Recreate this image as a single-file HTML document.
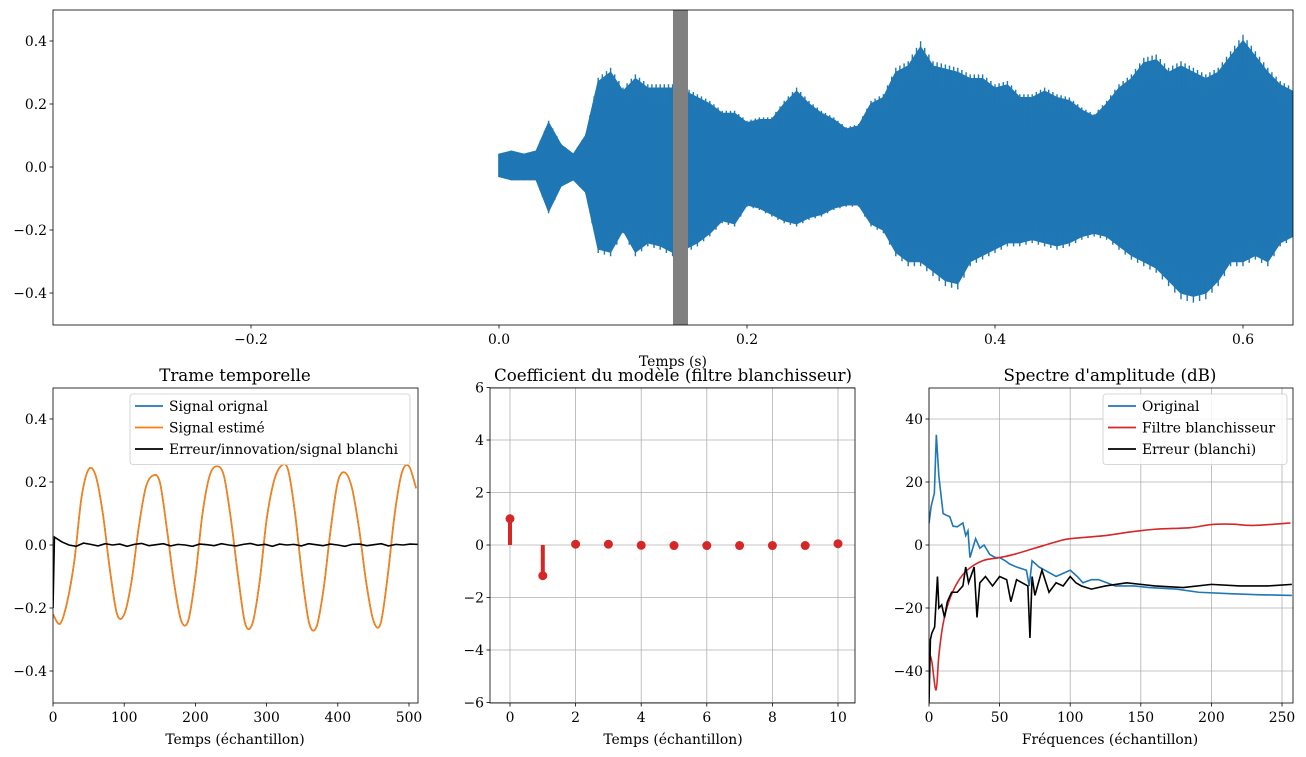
<!DOCTYPE html>
<html><head><meta charset="utf-8"><style>
html,body{margin:0;padding:0;background:#fff}
svg{display:block;font-family:"DejaVu Serif","Liberation Serif",serif}
</style></head><body>
<svg id="fig" width="1306" height="757" viewBox="0 0 1306 757"></svg>
<script>
// ---- top waveform envelope (every 0.01 s from 0 to 0.64)
const envUpper=[.04,.05,.04,.05,.14,.07,.04,.10,.27,.30,.24,.28,.25,.25,.25,.24,.22,.20,.17,.17,.14,.15,.15,.20,.24,.20,.17,.15,.12,.13,.20,.22,.30,.32,.38,.32,.31,.30,.28,.28,.25,.26,.22,.22,.24,.22,.21,.18,.16,.20,.25,.28,.33,.34,.30,.32,.30,.28,.30,.35,.40,.35,.30,.26,.24];
const envLower=[-.03,-.04,-.04,-.04,-.14,-.06,-.04,-.08,-.26,-.27,-.20,-.27,-.24,-.25,-.27,-.26,-.24,-.21,-.17,-.18,-.12,-.13,-.15,-.17,-.18,-.16,-.15,-.13,-.12,-.12,-.18,-.20,-.27,-.30,-.30,-.33,-.36,-.37,-.30,-.28,-.26,-.24,-.24,-.23,-.24,-.25,-.24,-.22,-.21,-.22,-.25,-.28,-.30,-.32,-.36,-.40,-.41,-.40,-.36,-.30,-.30,-.28,-.30,-.24,-.22];
const frameStart=0.1403, frameEnd=0.1524;
const topXTicks=[-0.2,0,0.2,0.4,0.6];
const topYTicks=[-0.4,-0.2,0,0.2,0.4];
// ---- bottom-left frame (every 10 samples)
const frameSignal=[-0.22,-0.25,-0.18,-0.05,0.15,0.24,0.22,0.10,-0.08,-0.22,-0.22,-0.12,0.05,0.18,0.22,0.20,0.05,-0.12,-0.24,-0.24,-0.10,0.10,0.22,0.25,0.22,0.08,-0.10,-0.25,-0.25,-0.12,0.08,0.20,0.25,0.24,0.10,-0.10,-0.25,-0.26,-0.14,0.05,0.20,0.23,0.18,0.05,-0.12,-0.24,-0.25,-0.10,0.10,0.23,0.25,0.18];
const frameError=[-0.2,0.025,0.01,0.0,-0.004,0.006,0.002,-0.003,0.004,0.0,0.003,-0.004,0.002,0.005,-0.002,0.001,0.004,-0.003,0.002,0.0,-0.004,0.003,0.001,-0.002,0.004,0.0,-0.003,0.002,0.005,-0.001,0.002,-0.004,0.003,0.0,0.002,-0.003,0.004,0.001,-0.002,0.003,0.0,-0.004,0.002,0.003,-0.002,0.001,0.004,-0.003,0.002,0.0,0.003,0.002];
const blXTicks=[0,100,200,300,400,500];
const blYTicks=[-0.4,-0.2,0,0.2,0.4];
// ---- middle coefficients
const coefIdx=[0,1,2,3,4,5,6,7,8,9,10];
const coefVal=[1,-1.17,0.03,0.03,-0.01,-0.02,-0.02,-0.02,-0.02,-0.02,0.05];
const midXTicks=[0,2,4,6,8,10];
const midYTicks=[-6,-4,-2,0,2,4,6];
// ---- spectrum
const origF=[0,1.5,3.8,5.2,7,10,12,14.7,17,20,24,26,27.6,29,33,36,39,43,47,50,54,57,62,69,71,73,78,82,86,90,95,100,105,109,115,120,126,132,145,156,175,191,215,235,257];
const origDb=[6.9,12.2,16.5,35,21.8,10,9.5,9,6,5.8,7,3,4.5,-4,2,-1,0,-3,-4,-4,-5,-6,-7,-8,-13,-5,-7,-8,-9,-10,-9,-8,-10,-12,-11,-11,-12,-13,-13,-13.5,-14,-15,-15.5,-15.8,-16];
const redF=[0,2,5,7,10,14,20,27,38,50,60,75,90,100,125,140,160,185,200,215,230,256];
const redDb=[-34,-37,-46,-35,-25,-18,-12,-8,-5,-4,-3,-1,1,2,3,4,5,5.5,6.5,6.6,6.2,7];
const errF=[0,1,2,4,6,7,9,11,13,16,20,24,26,28,32,34,36,40,45,50,55,58,62,66,70,71.5,73,75,80,85,90,95,100,104,108,115,125,140,150,160,180,200,220,240,257];
const errDb=[-50,-30,-28,-26,-10,-20,-19,-23,-18,-15,-15,-13,-7,-12,-7,-23,-12,-10,-13,-10,-11,-18,-11,-12,-13,-29.5,-10,-16,-8,-15,-12,-13,-10,-12,-13,-14,-13,-12,-12.5,-13,-13.5,-12.5,-13,-13,-12.5];
const brXTicks=[0,50,100,150,200,250];
const brYTicks=[-40,-20,0,20,40];

const FS=13.9, TFS=16.7;
const svg=document.getElementById('fig');
const NS='http://www.w3.org/2000/svg';
function mk(tag,attrs,parent,text){const e=document.createElementNS(NS,tag);for(const k in attrs)e.setAttribute(k,attrs[k]);if(text!==undefined)e.textContent=text;(parent||svg).appendChild(e);return e;}
function lin(d0,d1,r0,r1){return v=>r0+(v-d0)*(r1-r0)/(d1-d0);}
function fmt(v){return (v<0?'\u2212':'')+Math.abs(v).toFixed(1);}
function fmtI(v){return (v<0?'\u2212':'')+Math.abs(v);}
function path(xs,ys,sx,sy){return xs.map((x,i)=>(i?'L':'M')+sx(x).toFixed(2)+','+sy(ys[i]).toFixed(2)).join('');}
function smoothPath(xs,ys,sx,sy){const P=xs.map((x,i)=>[sx(x),sy(ys[i])]);let d='M'+P[0][0]+','+P[0][1];for(let i=0;i<P.length-1;i++){const p0=P[Math.max(0,i-1)],p1=P[i],p2=P[i+1],p3=P[Math.min(P.length-1,i+2)];d+='C'+(p1[0]+(p2[0]-p0[0])/6)+','+(p1[1]+(p2[1]-p0[1])/6)+' '+(p2[0]-(p3[0]-p1[0])/6)+','+(p2[1]-(p3[1]-p1[1])/6)+' '+p2[0]+','+p2[1];}return d;}

function axes(name,x0,y0,x1,y1,sx,sy,xt,yt,xf,yf,grid){
  const g=mk('g',{});
  const clipId='c'+name;const cp=mk('clipPath',{id:clipId},g);mk('rect',{x:x0,y:y0,width:x1-x0,height:y1-y0},cp);
  if(grid){xt.forEach(v=>{const gl=mk('line',{x1:sx(v),x2:sx(v),y1:y0,y2:y1,stroke:'#b0b0b0','stroke-width':0.8},g);});
    yt.forEach(v=>{const gl=mk('line',{x1:x0,x2:x1,y1:sy(v),y2:sy(v),stroke:'#b0b0b0','stroke-width':0.8},g);});}
  const plot=mk('g',{'clip-path':'url(#'+clipId+')'},g);
  const ax=mk('g',{},svg);
  xt.forEach(v=>{mk('line',{x1:sx(v),x2:sx(v),y1:y1,y2:y1+3.5,stroke:'#000','stroke-width':0.8},ax);
    const t=mk('text',{x:sx(v),y:y1+19,'text-anchor':'middle','font-size':FS},ax,xf(v));});
  yt.forEach(v=>{mk('line',{x1:x0-3.5,x2:x0,y1:sy(v),y2:sy(v),stroke:'#000','stroke-width':0.8},ax);
    const t=mk('text',{x:x0-6,y:sy(v)+5,'text-anchor':'end','font-size':FS},ax,yf(v));});
  return {plot,ax};
}
function frame(x0,y0,x1,y1){const r=mk('rect',{x:x0,y:y0,width:x1-x0,height:y1-y0,fill:'none',stroke:'#000','stroke-width':0.8});}

// ===== TOP =====
{
 const x0=53,x1=1293,y0=10,y1=325;
 const sx=lin(0,0.2,499,747), sy=lin(-0.5,0.5,324.5,9.5);
 const A=axes('waveform-panel',x0,y0,x1,y1,sx,sy,topXTicks,topYTicks,fmt,fmt,false);
 const ts=envUpper.map((_,i)=>i*0.01);
 let d=path(ts,envUpper,sx,sy);
 for(let i=ts.length-1;i>=0;i--)d+='L'+sx(ts[i]).toFixed(2)+','+sy(envLower[i]).toFixed(2);
 d+='Z';
 const wf=mk('path',{d:d,fill:'#1f77b4',stroke:'#1f77b4','stroke-width':1.5},A.plot);
 
 let sp='';
 for(let i=0;i<ts.length-1;i++){for(let k=0;k<6;k++){const t=ts[i]+k*0.01/6;const f=(k%2?0.8:1.05);
   const u=envUpper[i]+(envUpper[i+1]-envUpper[i])*k/6, l=envLower[i]+(envLower[i+1]-envLower[i])*k/6;
   sp+='M'+sx(t).toFixed(1)+','+sy(u*f).toFixed(1)+'L'+sx(t).toFixed(1)+','+sy(l*(k%3?0.85:1.05)).toFixed(1);}}
 const spk=mk('path',{d:sp,stroke:'#1f77b4','stroke-width':1.4,fill:'none'},A.plot);
 
 const fr=mk('rect',{x:sx(frameStart),y:y0,width:sx(frameEnd)-sx(frameStart),height:y1-y0,fill:'#808080'},A.plot);
 
 frame(x0,y0,x1,y1);
 const xl=mk('text',{x:673,y:366,'text-anchor':'middle','font-size':FS},svg,'Temps (s)');
 
}

function legend(name,x,y,w,entries){
 const g=mk('g',{});
 mk('rect',{x:x,y:y,width:w,height:entries.length*21.5+6,fill:'#fff','fill-opacity':0.85,stroke:'#ccc','stroke-width':0.8,rx:3},g);
 entries.forEach((e,i)=>{const yy=y+12+i*21.5;
  const it=mk('g',{},g);
  mk('line',{x1:x+5,x2:x+33,y1:yy,y2:yy,stroke:e[1],'stroke-width':1.8},it);
  mk('text',{x:x+39,y:yy+5,'font-size':FS},it,e[0]);});
}
function title(txt,x,y){const t=mk('text',{x:x,y:y,'text-anchor':'middle','font-size':TFS},svg,txt);}

// ===== BOTTOM LEFT =====
{
 const x0=53,x1=418,y0=388,y1=703;
 const sx=lin(0,500,53,409), sy=lin(-0.5,0.5,702.5,387.5);
 const A=axes('frame-panel',x0,y0,x1,y1,sx,sy,blXTicks,blYTicks,fmtI,fmt,false);
 const n=frameSignal.map((_,i)=>Math.min(i*10,512));
 const s1=mk('path',{d:smoothPath(n,frameSignal,sx,sy),fill:'none',stroke:'#1f77b4','stroke-width':1.6},A.plot);
 
 const s2=mk('path',{d:smoothPath(n,frameSignal,sx,sy),fill:'none',stroke:'#ff7f0e','stroke-width':1.6},A.plot);
 
 const ne=frameError.map((_,i)=>i===0?0:Math.min(2+(i-1)*10.2,512));
 const s3=mk('path',{d:path(ne,frameError,sx,sy),fill:'none',stroke:'#000','stroke-width':1.6},A.plot);
 
 frame(x0,y0,x1,y1);
 title('Trame temporelle',235,381);
 legend('frame-legend',130,394,280,[['Signal orignal','#1f77b4'],['Signal estimé','#ff7f0e'],['Erreur/innovation/signal blanchi','#000']]);
 const xl=mk('text',{x:235,y:744,'text-anchor':'middle','font-size':FS},svg,'Temps (échantillon)');
}

// ===== BOTTOM MIDDLE =====
{
 const x0=490,x1=855,y0=388,y1=703;
 const sx=lin(0,10,510,838), sy=lin(-6,6,702.5,387.5);
 const A=axes('coefficient-panel',x0,y0,x1,y1,sx,sy,midXTicks,midYTicks,fmtI,fmtI,true);
 coefIdx.forEach((k,i)=>{
  const st=mk('line',{x1:sx(k),x2:sx(k),y1:sy(0),y2:sy(coefVal[i]),stroke:'#d62728','stroke-width':4},A.plot);
  
  const c=mk('circle',{cx:sx(k),cy:sy(coefVal[i]),r:4.5,fill:'#d62728'},A.plot);
  
 });
 frame(x0,y0,x1,y1);
 title('Coefficient du modèle (filtre blanchisseur)',673,381);
 const xl=mk('text',{x:673,y:744,'text-anchor':'middle','font-size':FS},svg,'Temps (échantillon)');
}

// ===== BOTTOM RIGHT =====
{
 const x0=929,x1=1293,y0=388,y1=703;
 const sx=lin(0,250,929,1282), sy=lin(-50,50,702.5,387.5);
 const A=axes('spectrum-panel',x0,y0,x1,y1,sx,sy,brXTicks,brYTicks,fmtI,fmtI,true);
 const a=mk('path',{d:path(origF,origDb,sx,sy),fill:'none',stroke:'#1f77b4','stroke-width':1.6},A.plot);
 const b=mk('path',{d:smoothPath(redF,redDb,sx,sy),fill:'none',stroke:'#d62728','stroke-width':1.6},A.plot);
 const c=mk('path',{d:path(errF,errDb,sx,sy),fill:'none',stroke:'#000','stroke-width':1.6},A.plot);
 frame(x0,y0,x1,y1);
 title("Spectre d'amplitude (dB)",1110,381);
 legend('spectrum-legend',1103,394,184,[['Original','#1f77b4'],['Filtre blanchisseur','#d62728'],['Erreur (blanchi)','#000']]);
 const xl=mk('text',{x:1110,y:744,'text-anchor':'middle','font-size':FS},svg,'Fréquences (échantillon)');
}
</script>
</body></html>
